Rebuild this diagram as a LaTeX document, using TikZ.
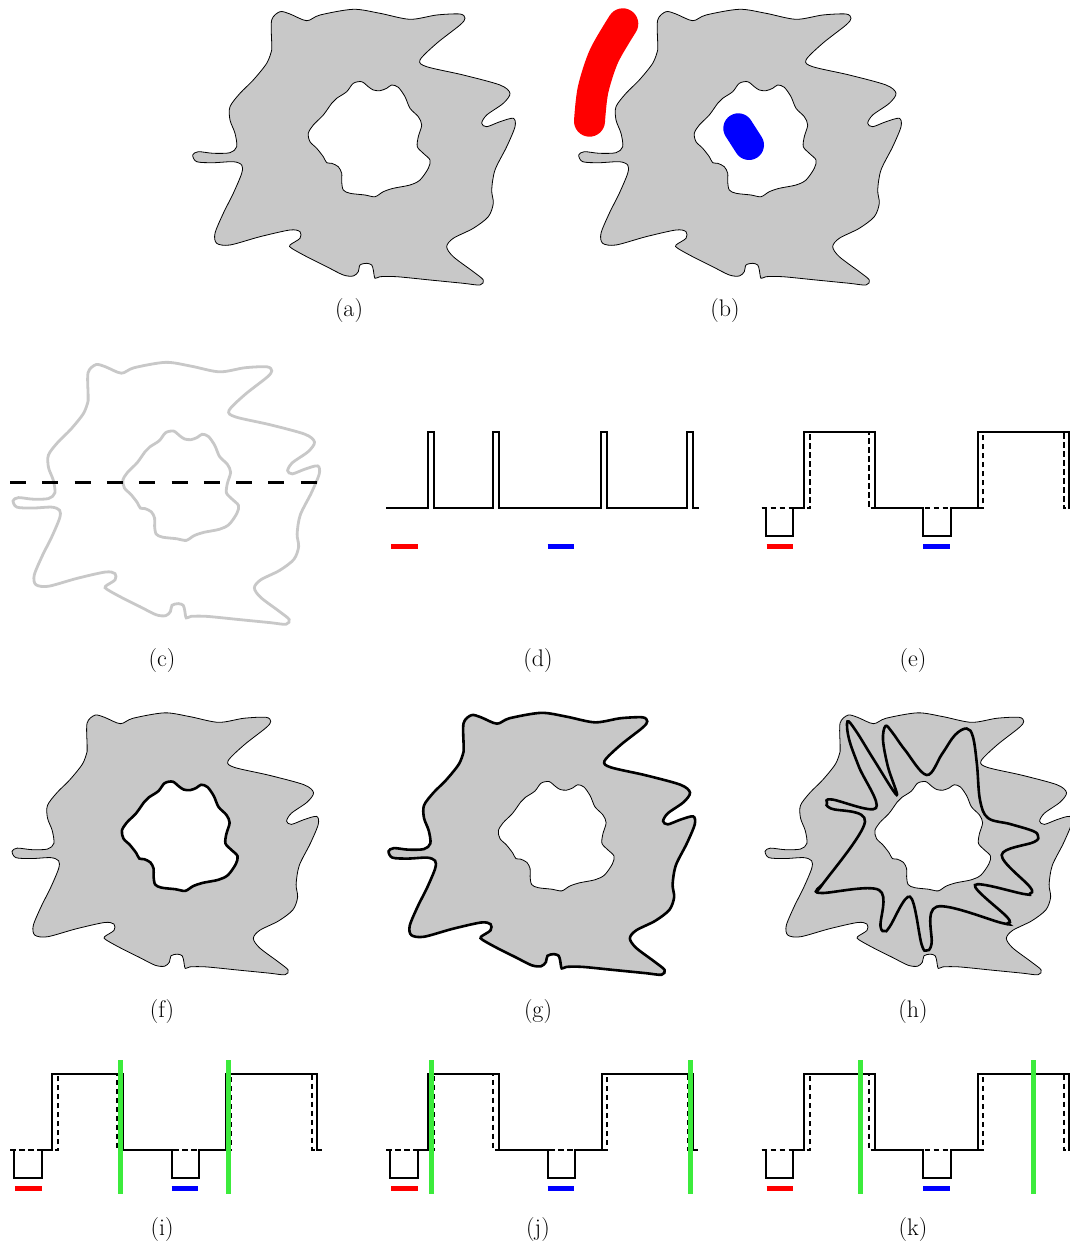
\documentclass[tikz,border=0pt]{standalone}
\usepackage{fontspec}
\definecolor{blobgrey}{RGB}{200,200,200}
\definecolor{greenline}{RGB}{60,235,60}
\def\blobOuter{plot[smooth cycle] coordinates {(91.7,43.3) (91.7,20) (100,11.7) (110,14) (126.7,20.7) (140,15) (173.3,9.3) (200,13.3) (230,19.3) (256.7,15) (280,14) (285,18.3) (280,25) (256.7,43.3) (240,60) (246.7,66.7) (283.3,75) (320,85) (330,93.3) (323.3,103.3) (306.7,115) (301.7,123.3) (306.7,126.7) (320,121.7) (333.3,118.3) (335,126.7) (326.7,146.7) (315,170) (311.7,190) (313.3,203.3) (308.3,216.7) (293.3,228.3) (273.3,238.3) (266.7,246.7) (273.3,256.7) (293.3,271.7) (303.3,280) (300,285) (283.3,283.3) (250,280) (216.7,276.7) (200,276.7) (195,278.3) (193.3,270) (191.7,265) (186.7,263.3) (180,265) (178.3,271.7) (173.3,276) (163.3,275) (146.7,266.7) (126.7,256.7) (111.7,248.3) (110,245) (120,238.3) (120,231.7) (110,230) (80,236.7) (50,245) (36.7,243.3) (35,233.3) (43.3,213.3) (53.3,193.3) (61.7,173.3) (61.7,165) (53.3,161.7) (33.3,162.7) (16.7,161.7) (12.7,155) (18.3,151.7) (33.3,153.3) (50,152.7) (56.7,146.7) (55,133.3) (50,120) (50,106.7) (60,93.3) (73.3,80) (86.7,63.3) (91.7,50)}}
\def\blobInner{plot[smooth cycle] coordinates {(128.3,133.3) (133.3,125) (143.3,115) (151.7,103.3) (156.7,98.3) (166.7,91.7) (173.3,83.3) (181.7,81.7) (188.3,86.7) (193.3,90) (200,90.7) (206.7,88.3) (211.7,85) (218.3,87.3) (225,96.7) (230,108.3) (238.3,116.7) (241.7,125) (238.3,136.7) (237.3,146.7) (243.3,153.3) (250,160) (248.3,168.3) (240,180) (230,185) (213.3,188.3) (203.3,191.7) (195,196.7) (185,195) (170,193.3) (163.3,190) (161.7,181.7) (161.7,173.3) (158.3,166.7) (151.7,163.3) (146.7,162.7) (143.3,156.7) (136.7,148.3) (130,141.7)}}
\newcommand\FilledBlob{%
  \fill[blobgrey, even odd rule] \blobOuter \blobInner;
  \draw[thinline] \blobOuter;
  \draw[thinline] \blobInner;}
\newcommand\ErosionGraph[2]{%
  \begin{scope}[shift={(#1,#2)}]
    \draw[dashline] (0,76) -- (48.3,76) -- (48.3,0) -- (107.3,0) -- (107.3,76) -- (221,76) -- (221,0) -- (302.3,0) -- (302.3,76) -- (311.7,76);
    \draw[graphline] (0,76) -- (4.3,76) -- (4.3,104) -- (31.7,104) -- (31.7,76) -- (42.3,76) -- (42.3,0) -- (113.3,0) -- (113.3,76) -- (161.7,76) -- (161.7,104) -- (189,104) -- (189,76) -- (216,76) -- (216,0) -- (307.3,0) -- (307.3,76) -- (311.7,76);
    \draw[redbar] (5,114.5) -- (31.7,114.5);
    \draw[bluebar] (161.7,114.5) -- (188.3,114.5);
  \end{scope}}
\newcommand\GreenMark[3]{%
  \draw[greenmark] (#1+#3,#2-14) -- (#1+#3,#2+120);}
\tikzset{
  thinline/.style={black, line width=0.8pt},
  thickline/.style={black, line width=2.6pt},
  greyline/.style={blobgrey, line width=2.8pt},
  graphline/.style={black, line width=2pt, line join=miter},
  dashline/.style={black, line width=1.9pt, dash pattern=on 5.5pt off 3.5pt},
  redbar/.style={red, line width=5.3pt},
  bluebar/.style={blue, line width=5.3pt},
  greenmark/.style={greenline, line width=5pt},
  lab/.style={font=\fontsize{24}{28}\selectfont, inner sep=0pt}
}
\begin{document}
\begin{tikzpicture}[x=1pt,y=-1pt]
\useasboundingbox (0,0) rectangle (1070,1247);
% (a)
\begin{scope}[shift={(180,0)}]
  \FilledBlob
\end{scope}
% (b)
\begin{scope}[shift={(566,0)}]
  \FilledBlob
\end{scope}
\draw[red, line width=31pt, line cap=round] plot[smooth] coordinates {(622.8,23.8) (604,56) (593,90) (589.5,121.2)};
\draw[blue, line width=30pt, line cap=round] (738.3,128.3) -- (749,145);
% (c)
\begin{scope}[shift={(1,353.5)}, scale=0.95]
  \draw[greyline] \blobOuter;
  \draw[greyline] \blobInner;
\end{scope}
\draw[black, line width=3pt, dash pattern=on 16pt off 16.3pt] (10,482.3) -- (318.3,482.3);
% (d)
\begin{scope}[shift={(386,432.3)}]
  \draw[graphline] (0,76) -- (42.3,76) -- (42.3,0) -- (48,0) -- (48,76) -- (107.3,76) -- (107.3,0) -- (113,0) -- (113,76) -- (215,76) -- (215,0) -- (221,0) -- (221,76) -- (301.3,76) -- (301.3,0) -- (307.3,0) -- (307.3,76) -- (313,76);
  \draw[redbar] (5,114.5) -- (31.7,114.5);
  \draw[bluebar] (161.7,114.5) -- (188.3,114.5);
\end{scope}
% (e)
\ErosionGraph{761.7}{432.3}
% (f)
\begin{scope}[shift={(0,704)}, scale=0.95]
  \FilledBlob
  \draw[thickline] \blobInner;
\end{scope}
% (g)
\begin{scope}[shift={(376.5,704)}, scale=0.95]
  \FilledBlob
  \draw[thickline] \blobOuter;
\end{scope}
% (h)
\begin{scope}[shift={(753,704)}, scale=0.95]
  \FilledBlob
\end{scope}
\draw[thickline] plot[smooth cycle, tension=0.6] coordinates {
  (859,767) (849,739) (847.5,721.5) (856,731) (874,760)
  (896.7,795)
  (888,767) (883,740) (885.5,726) (892,732) (905,750)
  (926.7,775)
  (942,754) (955,735) (966.7,728.5) (973,737) (977,765) (980,800) (988,818)
  (1010,824) (1033,831) (1038,836) (1034,842)
  (1001.7,855)
  (1030,887) (1030,893.5) (1024,894)
  (975,885)
  (1007,917) (1008,923) (1002,923)
  (936.7,906.7)
  (931.5,944) (926.5,950.5) (921.5,944)
  (910,896.7)
  (889.5,927) (885,931) (880.5,926)
  (879,890)
  (822,893) (817.5,889) (822,885)
  (865,821.7)
  (831,808.5) (827,803) (832,799.5)
  (876,808)};
% (i) (j) (k)
\ErosionGraph{10}{1074}
\GreenMark{10}{1074}{110.5}
\GreenMark{10}{1074}{218.5}
\ErosionGraph{386}{1074}
\GreenMark{386}{1074}{45.3}
\GreenMark{386}{1074}{304.8}
\ErosionGraph{761.7}{1074}
\GreenMark{761.7}{1074}{99}
\GreenMark{761.7}{1074}{272}
% labels
\node[lab] (la) at (349,311) {(a)};
\node[lab] (lb) at (725,311) {(b)};
\node[lab] (lc) at (162,661) {(c)};
\node[lab] (ld) at (538,661) {(d)};
\node[lab] (le) at (913,661) {(e)};
\node[lab] (lf) at (162,1011) {(f)};
\node[lab] (lg) at (538,1011) {(g)};
\node[lab] (lh) at (913,1011) {(h)};
\node[lab] (li) at (162,1229) {(i)};
\node[lab] (lj) at (538,1229) {(j)};
\node[lab] (lk) at (913,1229) {(k)};
\end{tikzpicture}
\end{document}
